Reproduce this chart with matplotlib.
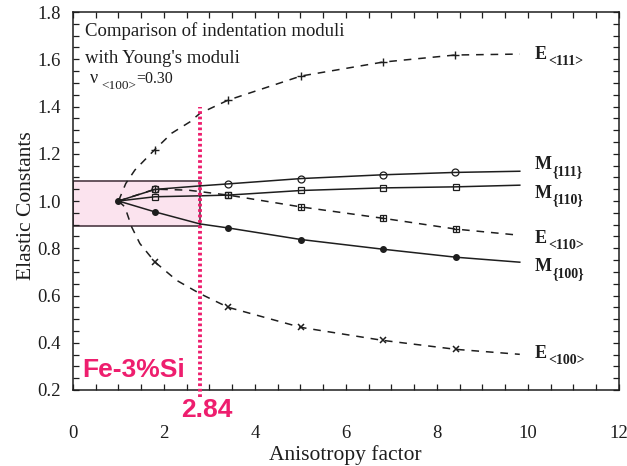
import matplotlib
matplotlib.use("Agg")
import matplotlib.pyplot as plt
from matplotlib.patches import Rectangle

matplotlib.rcParams['font.family'] = 'serif'
matplotlib.rcParams['font.serif'] = ['Liberation Serif', 'DejaVu Serif']

PINK = '#ee1e6e'
INK = '#1e1e1e'

# curves (anisotropy factor, normalised modulus)
x_e111 = [1.0, 1.16, 1.36, 1.80, 2.17, 2.57, 2.79, 3.41, 5.01, 6.81, 8.40, 9.82]
y_e111 = [1.0, 1.074, 1.131, 1.218, 1.287, 1.335, 1.371, 1.427, 1.529, 1.588, 1.618, 1.622]

x_e100 = [1.0, 1.14, 1.29, 1.47, 1.80, 2.28, 2.79, 3.41, 5.01, 6.81, 8.42, 9.82]
y_e100 = [1.0, 0.975, 0.890, 0.820, 0.742, 0.664, 0.608, 0.550, 0.465, 0.410, 0.372, 0.351]

x_e110 = [1.0, 1.80, 2.53, 3.41, 5.01, 6.81, 8.42, 9.82]
y_e110 = [1.0, 1.050, 1.046, 1.025, 0.975, 0.927, 0.881, 0.855]

x_m111 = [1.0, 1.80, 2.79, 3.41, 5.01, 6.81, 8.40, 9.82]
y_m111 = [1.0, 1.049, 1.064, 1.0725, 1.095, 1.111, 1.121, 1.126]

x_m110 = [1.0, 1.80, 2.79, 3.41, 5.01, 6.81, 8.42, 9.82]
y_m110 = [1.0, 1.018, 1.022, 1.025, 1.0445, 1.0555, 1.060, 1.067]

x_m100 = [1.0, 1.80, 2.79, 3.41, 5.01, 6.81, 8.42, 9.82]
y_m100 = [1.0, 0.954, 0.903, 0.886, 0.837, 0.796, 0.762, 0.741]

fe_si_A = 2.84

fig = plt.figure(figsize=(6.27, 4.66), dpi=100)
ax = fig.add_axes([0.1164, 0.1631, 0.8708, 0.8111])

dash = (0, (5, 4.5))

# Fe-3%Si highlight (drawn first so curves sit on top)
ax.add_patch(Rectangle((0, 0.893), fe_si_A - 0.05, 1.084 - 0.893,
                       facecolor='#fbe3ee', edgecolor='#4d3a44', lw=1.2, zorder=1))

ax.plot(x_e111, y_e111, color=INK, lw=1.1, ls=dash, marker='+', ms=6, mew=1.0,
        markevery=[3, 7, 8, 9, 10], zorder=3)
ax.plot(x_e100, y_e100, color=INK, lw=1.1, ls=dash, marker='x', ms=4.5, mew=1.1,
        markevery=[4, 7, 8, 9, 10], zorder=3)
ax.plot(x_e110, y_e110, color=INK, lw=1.1, ls=dash, marker='s', ms=5, mfc='none', mew=0.9,
        markevery=[1, 3, 4, 5, 6], zorder=3)
ax.plot(x_e110, y_e110, color=INK, ls='none', marker='+', ms=5, mew=0.9,
        markevery=[1, 3, 4, 5, 6], zorder=3)
ax.plot(x_m111, y_m111, color=INK, lw=1.1, marker='o', ms=5, mfc='none', mew=0.9,
        markevery=[1, 3, 4, 5, 6], zorder=3)
ax.plot(x_m110, y_m110, color=INK, lw=1.1, marker='s', ms=5, mfc='none', mew=0.9,
        markevery=[1, 3, 4, 5, 6], zorder=3)
ax.plot(x_m100, y_m100, color=INK, lw=1.1, marker='o', ms=4, mfc=INK,
        markevery=[0, 1, 3, 4, 5, 6], zorder=3)

ax.plot([fe_si_A - 0.05, fe_si_A - 0.05], [0.17, 1.40], color=PINK, lw=2.8,
        ls=(0, (0.7, 0.7)), clip_on=False, zorder=4)

ax.set_xlim(0, 12)
ax.set_ylim(0.2, 1.8)
ax.set_xticks(range(0, 13, 2))
ax.set_xticks([i * 0.5 for i in range(25)], minor=True)
ax.set_yticks([0.2, 0.4, 0.6, 0.8, 1.0, 1.2, 1.4, 1.6, 1.8])
ax.set_yticks([0.2 + i * 0.05 for i in range(33)], minor=True)
ax.set_yticklabels(['0.2', '0.4', '0.6', '0.8', '1.0', '1.2', '1.4', '1.6', '1.8'])
ax.tick_params(which='both', direction='in', top=True, right=True, length=4,
               width=0.9, colors=INK, labelsize=13.5)
ax.tick_params(axis='x', which='major', pad=25)
ax.tick_params(axis='y', which='major', pad=9)
for s in ax.spines.values():
    s.set_linewidth(1.1)
    s.set_color(INK)

ax.set_xlabel('Anisotropy factor', fontsize=15.5, color=INK, va='center')
ax.set_ylabel('Elastic Constants', fontsize=15.5, color=INK, va='center')
ax.xaxis.set_label_coords(0.498, -0.172)
ax.yaxis.set_label_coords(-0.086, 0.489)

# heading text
ax.text(0.26, 1.698, 'Comparison of indentation moduli', fontsize=13.5, color=INK)
ax.text(0.26, 1.584, "with Young's moduli", fontsize=13.5, color=INK)
ax.text(0.37, 1.498, 'ν', fontsize=13, color=INK)
ax.text(0.62, 1.476, '<100>', fontsize=9.5, color=INK)
ax.text(1.38, 1.500, '=0.30', fontsize=11.5, color=INK)

# curve labels: main letter plus subscript
curve_labels = [('E', '<111>', 1.601), ('M', '{111}', 1.135), ('M', '{110}', 1.013),
                ('E', '<110>', 0.822), ('M', '{100}', 0.703), ('E', '<100>', 0.335)]
for letter, sub, yb in curve_labels:
    ax.text(10.15, yb, letter, fontsize=13, fontweight='bold', color=INK, va='baseline')
    off = 9.5 if letter == 'E' else 12.5
    ax.annotate(sub, xy=(10.15, yb), xytext=(off, -4), textcoords='offset points',
                fontsize=10, fontweight='bold', color=INK, va='baseline')

ax.text(0.20, 0.253, 'Fe-3%Si', fontsize=19, fontweight='bold', color=PINK,
        family='Liberation Sans', va='baseline', zorder=5)
ax.text(2.945, 0.114, '2.84', fontsize=19, fontweight='bold', color=PINK,
        family='Liberation Sans', ha='center', va='center', clip_on=False)

fig.savefig('out.png', dpi=100, facecolor='white')
